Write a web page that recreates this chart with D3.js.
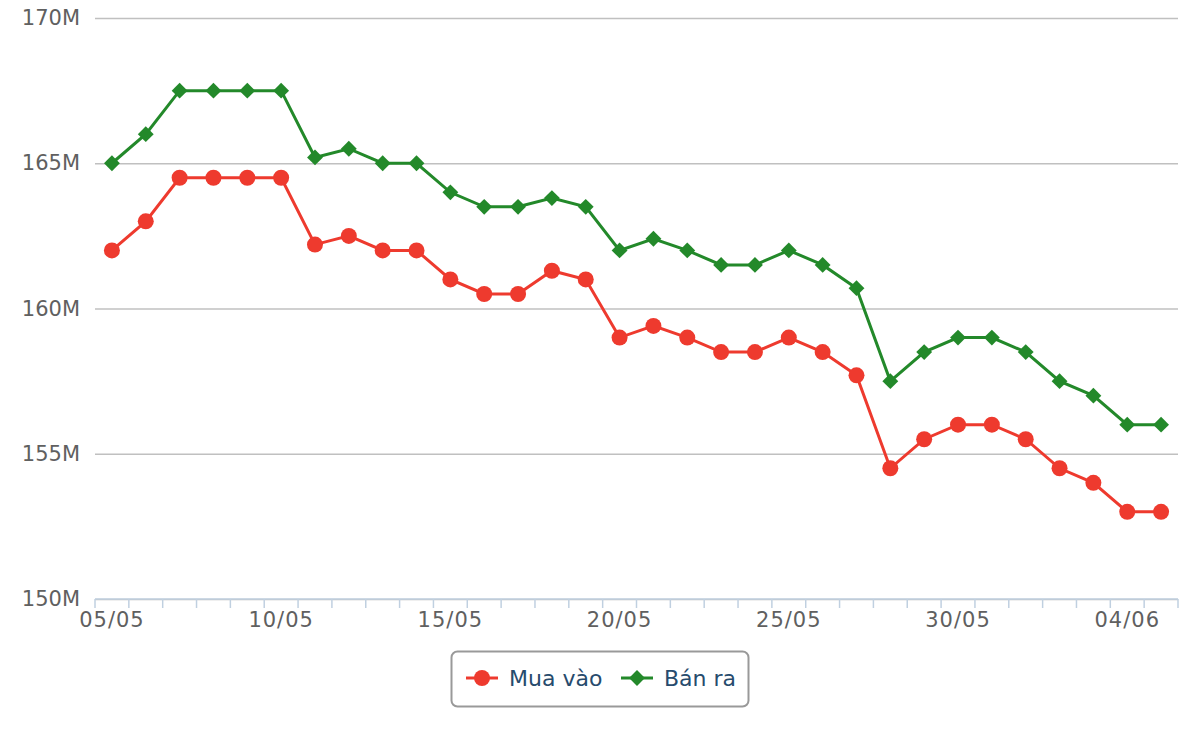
<!DOCTYPE html>
<html>
<head>
<meta charset="utf-8">
<script src="https://cdn.jsdelivr.net/npm/d3@7"></script>
<style>
  body { margin: 0; background: #fff; }
  svg { font-family: "DejaVu Sans", sans-serif; }
</style>
</head>
<body>
<div id="chart"></div>
<script>
// dates on x axis
const dates = ["05/05","06/05","07/05","08/05","09/05","10/05","11/05","12/05","13/05","14/05",
  "15/05","16/05","17/05","18/05","19/05","20/05","21/05","22/05","23/05","24/05",
  "25/05","26/05","27/05","28/05","29/05","30/05","31/05","01/06","02/06","03/06","04/06","05/06"];

// buy price (millions)
const muaVao = [162.0,163.0,164.5,164.5,164.5,164.5,162.2,162.5,162.0,162.0,
  161.0,160.5,160.5,161.3,161.0,159.0,159.4,159.0,158.5,158.5,
  159.0,158.5,157.7,154.5,155.5,156.0,156.0,155.5,154.5,154.0,153.0,153.0];

// sell price (millions)
const banRa = [165.0,166.0,167.5,167.5,167.5,167.5,165.2,165.5,165.0,165.0,
  164.0,163.5,163.5,163.8,163.5,162.0,162.4,162.0,161.5,161.5,
  162.0,161.5,160.7,157.5,158.5,159.0,159.0,158.5,157.5,157.0,156.0,156.0];

const yTicks = [150, 155, 160, 165, 170];

const w = 1200, h = 740;
const pLeft = 95, pRight = 1178, pTop = 18, pBottom = 599;

const svg = d3.select("#chart").append("svg")
  .attr("width", w)
  .attr("height", h);

const x = d3.scaleBand()
  .domain(dates)
  .range([pLeft, pRight]);

const y = d3.scaleLinear()
  .domain([150, 170])
  .range([pBottom, pTop]);

// grid lines + y labels
const yAxis = d3.axisLeft(y)
  .tickValues(yTicks)
  .tickSize(-(pRight - pLeft))
  .tickPadding(15)
  .tickFormat(d => d + "M");

svg.append("g")
  .attr("transform", "translate(" + pLeft + ",0)")
  .call(yAxis)
  .call(g => g.select(".domain").remove())
  .call(g => g.selectAll(".tick line").attr("stroke", "#c0c0c0").attr("stroke-width", 1.5))
  .call(g => g.selectAll(".tick text")
    .attr("fill", "#606060")
    .attr("font-size", 21)
    .attr("font-family", "DejaVu Sans, sans-serif"));

// x axis: ticks on category boundaries, label every 5th day
const xg = svg.append("g")
  .attr("transform", "translate(0," + pBottom + ")");

xg.append("line")
  .attr("x1", pLeft).attr("x2", pRight)
  .attr("y1", 0).attr("y2", 0)
  .attr("stroke", "#c0d0e0")
  .attr("stroke-width", 1.5);

const bounds = dates.map(d => x(d)).concat([pRight]);
xg.selectAll("line.tk")
  .data(bounds)
  .enter()
  .append("line")
  .attr("class", "tk")
  .attr("x1", d => d).attr("x2", d => d)
  .attr("y1", 0).attr("y2", 9)
  .attr("stroke", "#c0d0e0")
  .attr("stroke-width", 1.5);

xg.selectAll("text")
  .data(dates.filter((d, i) => i % 5 === 0))
  .enter()
  .append("text")
  .attr("x", d => x(d) + x.bandwidth() / 2)
  .attr("y", 28)
  .attr("text-anchor", "middle")
  .attr("fill", "#606060")
  .attr("font-size", 21)
  .attr("letter-spacing", 1)
  .text(d => d);

const cx = d => x(d) + x.bandwidth() / 2;

const line = d3.line()
  .x((d, i) => cx(dates[i]))
  .y(d => y(d));

const red = "#ee3a2e", green = "#23892a";

svg.append("path")
  .datum(muaVao)
  .attr("d", line)
  .attr("fill", "none")
  .attr("stroke", red)
  .attr("stroke-width", 3);

svg.append("path")
  .datum(banRa)
  .attr("d", line)
  .attr("fill", "none")
  .attr("stroke", green)
  .attr("stroke-width", 3);

svg.selectAll("circle.mua")
  .data(muaVao)
  .enter()
  .append("circle")
  .attr("class", "mua")
  .attr("cx", (d, i) => cx(dates[i]))
  .attr("cy", d => y(d))
  .attr("r", 8)
  .attr("fill", red);

const diamond = d3.symbol().type(d3.symbolDiamond2).size(160);

svg.selectAll("path.ban")
  .data(banRa)
  .enter()
  .append("path")
  .attr("class", "ban")
  .attr("d", diamond)
  .attr("transform", (d, i) => "translate(" + cx(dates[i]) + "," + y(d) + ")")
  .attr("fill", green);

// legend
const lg = svg.append("g");
lg.append("rect")
  .attr("x", 451.5).attr("y", 651.5)
  .attr("width", 297).attr("height", 55)
  .attr("rx", 6)
  .attr("fill", "#fff")
  .attr("stroke", "#999")
  .attr("stroke-width", 2);

const legendItems = [
  {name: "Mua vào", color: red, x: 466, shape: "circle"},
  {name: "Bán ra", color: green, x: 621, shape: "diamond"}
];

legendItems.forEach(it => {
  lg.append("line")
    .attr("x1", it.x).attr("x2", it.x + 32)
    .attr("y1", 678).attr("y2", 678)
    .attr("stroke", it.color)
    .attr("stroke-width", 3);
  if (it.shape === "circle") {
    lg.append("circle")
      .attr("cx", it.x + 16).attr("cy", 678).attr("r", 8)
      .attr("fill", it.color);
  } else {
    lg.append("path")
      .attr("d", diamond)
      .attr("transform", "translate(" + (it.x + 16) + ",678)")
      .attr("fill", it.color);
  }
  lg.append("text")
    .attr("x", it.x + 43)
    .attr("y", 686)
    .attr("fill", "#274b6d")
    .attr("font-size", 22)
    .text(it.name);
});
</script>
</body>
</html>
